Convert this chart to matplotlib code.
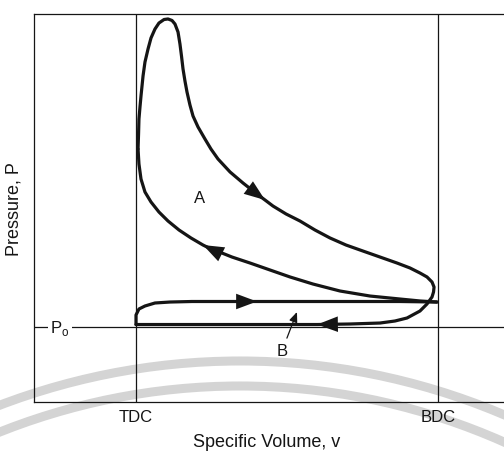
import matplotlib
matplotlib.use("Agg")
import matplotlib.pyplot as plt
from matplotlib.patches import Circle

plt.rcParams['font.family'] = ['Liberation Sans', 'DejaVu Sans']

# stroke positions (specific volume, TDC = 1) and pressure (P_o = 1)
TDC = 1.0
BDC = 3.96
P_O = 1.0

# intake stroke, TDC -> BDC
intake_v = [1.0, 1.0, 1.029, 1.088, 1.186, 1.333, 1.549, 2.186, 2.902, 3.588, 3.95]
intake_p = [1.033, 1.16, 1.24, 1.28, 1.32, 1.333, 1.34, 1.34, 1.34, 1.34, 1.333]

# compression stroke, BDC -> TDC
comp_v = [3.95, 3.784, 3.588, 3.294, 3.0, 2.735, 2.510, 2.314, 2.118, 1.941,
          1.794, 1.725, 1.657, 1.539, 1.422, 1.314, 1.225, 1.147, 1.088, 1.049,
          1.029, 1.020]
comp_p = [1.333, 1.347, 1.373, 1.413, 1.48, 1.573, 1.667, 1.76, 1.853, 1.933,
          2.013, 2.047, 2.093, 2.187, 2.293, 2.413, 2.533, 2.667, 2.80, 2.973,
          3.173, 3.373]

# combustion, expansion, blowdown and exhaust back to TDC
exp_v = [1.020, 1.025, 1.029, 1.039, 1.049, 1.069, 1.088, 1.118, 1.147, 1.186,
         1.225, 1.275, 1.314, 1.353, 1.382, 1.412, 1.431, 1.446, 1.461, 1.480,
         1.5, 1.529, 1.559, 1.608, 1.676, 1.735, 1.804, 1.922, 2.049, 2.186,
         2.265, 2.343, 2.471, 2.608, 2.755, 2.902, 3.059, 3.225, 3.392, 3.559,
         3.686, 3.784, 3.853, 3.902, 3.922, 3.917, 3.902, 3.853, 3.784, 3.657,
         3.539, 3.392, 3.098, 2.775, 2.118, 1.0]
exp_p = [3.373, 3.573, 3.773, 3.933, 4.08, 4.347, 4.533, 4.707, 4.853, 4.973,
         5.053, 5.10, 5.107, 5.087, 5.04, 4.933, 4.773, 4.613, 4.44, 4.28,
         4.133, 3.96, 3.813, 3.667, 3.507, 3.373, 3.24, 3.067, 2.92, 2.773,
         2.693, 2.613, 2.507, 2.413, 2.293, 2.187, 2.093, 2.013, 1.933, 1.853,
         1.787, 1.72, 1.667, 1.60, 1.533, 1.467, 1.40, 1.307, 1.213, 1.12,
         1.08, 1.053, 1.04, 1.033, 1.033, 1.033]

# arrow heads: (curve, index of tip); direction taken from the point before
arrow_tips = [("intake", 7), ("comp", 12), ("exp", 30), ("exp", 53)]

fig = plt.figure(figsize=(5.04, 4.52), dpi=100)

# faint watermark arcs from the scanned page
bg = fig.add_axes([0, 0, 1, 1], zorder=-1)
bg.set_xlim(0, 504)
bg.set_ylim(452, 0)
bg.axis('off')
for r in [675, 650]:
    bg.add_patch(Circle((240, 1037), r, fill=False, ec='#d4d4d4', lw=6.5))

ax = fig.add_axes([34 / 504, 49 / 452, 486 / 504, 388 / 452])
ax.patch.set_alpha(0)
ax.set_xlim(0, 486 / 102)
ax.set_ylim(0, 388 / 75)

ink = '#151515'
for s in ['left', 'top', 'bottom']:
    ax.spines[s].set_linewidth(0.9)
    ax.spines[s].set_color(ink)
ax.spines['right'].set_visible(False)

ax.axvline(TDC, color=ink, lw=0.9)
ax.axvline(BDC, color=ink, lw=0.9)
ax.axhline(P_O, color=ink, lw=0.9)

curves = {"intake": (intake_v, intake_p), "comp": (comp_v, comp_p), "exp": (exp_v, exp_p)}
for name, (v, p) in curves.items():
    ax.plot(v, p, color=ink, lw=2.3, solid_capstyle='round', solid_joinstyle='round')

for name, i in arrow_tips:
    v, p = curves[name]
    ax.annotate('', xy=(v[i], p[i]), xytext=(v[i - 1], p[i - 1]),
                arrowprops=dict(arrowstyle='-|>,head_length=0.75,head_width=0.28',
                                mutation_scale=20, lw=0, color=ink,
                                shrinkA=0, shrinkB=0))

ax.text(1.627, 2.733, 'A', fontsize=12, ha='center', va='center', color=ink)
ax.annotate('B', xy=(2.578, 1.20), xytext=(2.431, 0.68), fontsize=12,
            ha='center', va='center', color=ink,
            arrowprops=dict(arrowstyle='-|>,head_length=0.6,head_width=0.25',
                            mutation_scale=10, lw=0.9, color=ink,
                            shrinkA=2, shrinkB=0))

ax.text(0.255, P_O, r'P$_\mathregular{o}$', fontsize=12, ha='center', va='center',
        color=ink, bbox=dict(fc='white', ec='none', pad=1.5))

ax.set_xticks([TDC, BDC])
ax.set_xticklabels(['TDC', 'BDC'], fontsize=12, color=ink)
ax.tick_params(axis='x', length=0, pad=5)
ax.set_yticks([])

ax.text(-0.041, 0.50, 'Pressure, P', transform=ax.transAxes, rotation=90,
        fontsize=13, ha='center', va='center', color=ink)
ax.text(0.479, -0.103, 'Specific Volume, v', transform=ax.transAxes,
        fontsize=13, ha='center', va='center', color=ink)

fig.savefig('out.png', dpi=100)
